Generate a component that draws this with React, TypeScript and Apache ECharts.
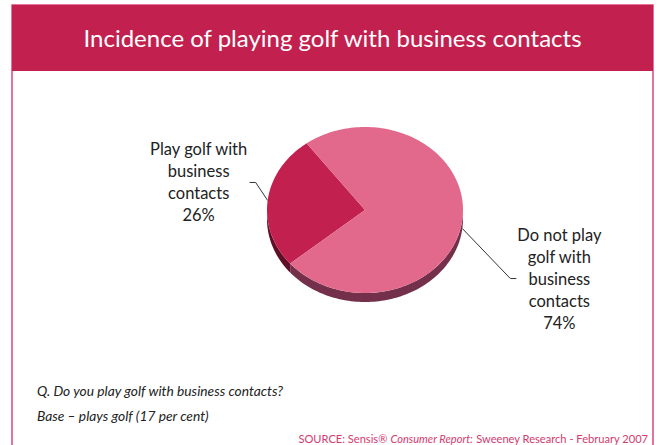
import React, { useEffect, useRef } from "react";
import * as echarts from "echarts";

// ---- data ----
const categories = ["Play golf with\nbusiness\ncontacts", "Do not play\ngolf with\nbusiness\ncontacts"];
const values = [26, 74];
const topColors = ["#c2214f", "#e2698c"];
const sideColors = ["#5f0f27", "#74304a"];

const TITLE = "Incidence of playing golf with business contacts";
const NOTES = ["Q. Do you play golf with business contacts?", "Base \u2013 plays golf (17 per cent)"];

// ---- layout ----
const CX = 365, CY = 210, RX = 98, RY = 83, DEPTH = 9, START = 126.6;
const labelLayout = [
  { dx: -12, dy: -18, hx: -6, tx: -51 },
  { dx: 48, dy: 50, hx: 6, tx: 43 },
];
const FONT = "Lato, sans-serif";

function arcPts(a0: number, a1: number, dy: number) {
  const pts: number[][] = [];
  const n = Math.max(2, Math.ceil(Math.abs(a1 - a0) / 1.5));
  for (let i = 0; i <= n; i++) {
    const a = ((a0 + ((a1 - a0) * i) / n) * Math.PI) / 180;
    pts.push([CX + RX * Math.cos(a), CY - RY * Math.sin(a) + dy]);
  }
  return pts;
}

export default function App() {
  const ref = useRef<HTMLDivElement>(null);
  useEffect(() => {
    const chart = echarts.init(ref.current!, null, { renderer: "svg" });
    const total = values.reduce((s, v) => s + v, 0);
    const renderItem = (params: any, api: any) => {
      const idx = params.dataIndex;
      let before = 0;
      for (let i = 0; i < idx; i++) before += values[i];
      const v = api.value(0);
      const a0 = START + (360 * before) / total;
      const a1 = a0 + (360 * v) / total;
      const children: any[] = [];
      for (let k = 0; k < 2; k++) {
        const lo = Math.max(a0, 180 + 360 * k);
        const hi = Math.min(a1, 360 + 360 * k);
        if (hi > lo) {
          const top = arcPts(lo, hi, 0);
          const bot = arcPts(lo, hi, DEPTH).reverse();
          children.push({
            type: "polygon",
            shape: { points: top.concat(bot) },
            style: { fill: sideColors[idx] },
          });
        }
      }
      children.push({
        type: "polygon",
        shape: { points: [[CX, CY]].concat(arcPts(a0, a1, 0)) },
        style: { fill: topColors[idx] },
      });
      const mid = ((a0 + a1) / 2) * Math.PI / 180;
      const lower = Math.sin(mid) < 0;
      const ax = CX + RX * Math.cos(mid);
      const ay = CY - RY * Math.sin(mid) + (lower ? DEPTH : 0);
      const L = labelLayout[idx];
      const ex = ax + L.dx, ey = ay + L.dy;
      const fx = ex + L.hx;
      children.push({
        type: "polyline",
        shape: { points: [[ax, ay], [ex, ey], [fx, ey]] },
        style: { stroke: "#333", lineWidth: 1, fill: null },
      });
      children.push({
        type: "text",
        x: fx + L.tx,
        y: ey,
        style: {
          text: categories[idx] + "\n" + Math.round(v) + "%",
          fill: "#222",
          fontSize: 16.5,
          fontFamily: FONT,
          align: "center",
          verticalAlign: "middle",
          lineHeight: 22,
        },
      });
      return { type: "group", children };
    };

    chart.setOption({
      animation: false,
      graphic: [
        {
          type: "rect",
          shape: { x: 12, y: 5, width: 641, height: 460 },
          style: { fill: "#fff", stroke: "#e0457a", lineWidth: 1.5 },
          z: 0,
        },
        {
          type: "rect",
          shape: { x: 12, y: 5, width: 641, height: 66 },
          style: { fill: "#c2214f" },
          z: 1,
        },
        {
          type: "text",
          x: 332.5,
          y: 37,
          z: 2,
          style: {
            text: TITLE,
            fill: "#fff",
            fontSize: 24,
            fontFamily: FONT,
            align: "center",
            verticalAlign: "middle",
          },
        },
        ...NOTES.map((t, i) => ({
          type: "text",
          x: 37,
          y: 390 + i * 25,
          z: 2,
          style: {
            text: t,
            fill: "#222",
            fontSize: 13.8,
            fontStyle: "italic",
            fontFamily: FONT,
            verticalAlign: "middle",
          },
        })),
        {
          type: "text",
          x: 648,
          y: 438,
          z: 2,
          style: {
            text: "{n|SOURCE: Sensis\u00ae }{i|Consumer Report:}{n| Sweeney Research - February 2007}",
            align: "right",
            verticalAlign: "middle",
            rich: {
              n: { fill: "#d33a6e", fontSize: 11.1, fontFamily: FONT, lineHeight: 13 },
              i: { fill: "#d33a6e", fontSize: 11.1, fontFamily: FONT, fontStyle: "italic", lineHeight: 13 },
            },
          },
        },
      ],
      series: [
        {
          type: "custom",
          coordinateSystem: "none",
          renderItem,
          data: values.map((v, i) => ({ value: [v], name: categories[i] })),
          z: 3,
        },
      ],
    });
    return () => chart.dispose();
  }, []);
  return <div ref={ref} style={{ position: "absolute", left: 0, top: 0, width: 658, height: 445 }} />;
}
